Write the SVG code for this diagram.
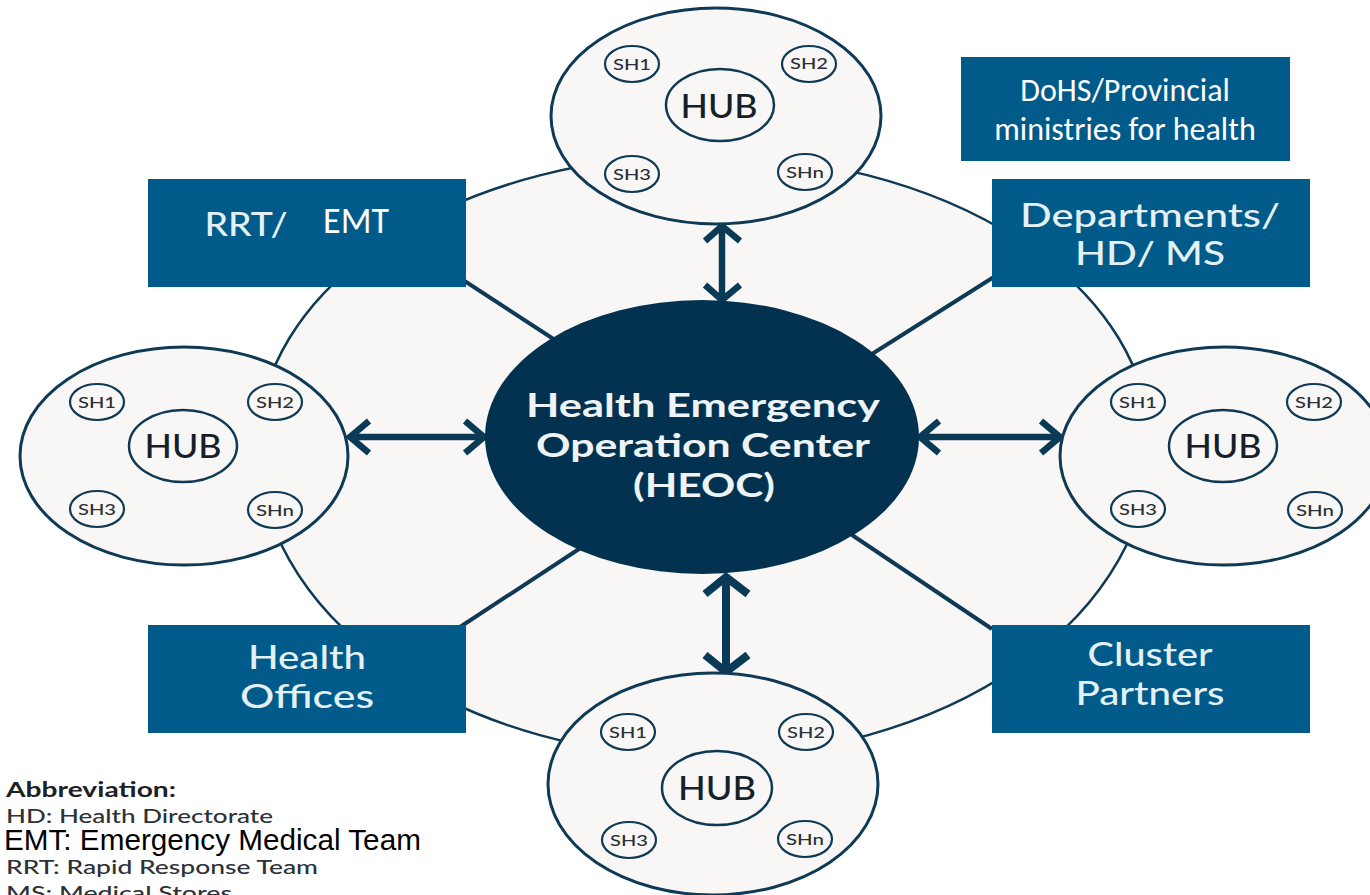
<svg xmlns="http://www.w3.org/2000/svg" width="1370" height="895" viewBox="0 0 1370 895">
<style>
.hubo{fill:#f9f7f6;stroke:#0f3a55;stroke-width:3}
.hubi{fill:#f9f7f6;stroke:#0f3a55;stroke-width:2.5}
.sh{fill:#f9f7f6;stroke:#0f3a55;stroke-width:2.2}
.hubt{font:500 33px Lato,"Noto Sans",sans-serif;fill:#15202a;text-anchor:middle}
.sht{font:500 15.5px Lato,"Noto Sans",sans-serif;fill:#2a3036;text-anchor:middle}
.box{fill:#005b8a}
.boxt{font:500 33px Lato,"Noto Sans",sans-serif;fill:#e4f0f3;text-anchor:middle}
.w{font:32px Carlito,Lato,"Open Sans",sans-serif;fill:#fff;text-anchor:middle}
.link{stroke:#0f3a55;stroke-width:4;fill:none}
.arrow{stroke:#0b3a57;stroke-width:6.5;fill:none}
.heot{font:700 32px Lato,"Noto Sans",sans-serif;fill:#eef3f5;text-anchor:middle}
.abb{font:500 20px Lato,"Noto Sans",sans-serif;fill:#2c3238}
</style>
<rect width="1370" height="895" fill="#fff"/>
<path id="ring" d="M258 445A446 290 0 0 1 1150 445A446 312 0 0 1 258 445Z" fill="#f9f7f6" stroke="#0f3a55" stroke-width="2.5"/>
<g id="connectors">
<path class="link" d="M460 278L555 340M997 275L872 354M460 627L582 547M992 629L852 535"/>
<path class="arrow" d="M722 228V298M705 241L722 226L740 241M705 285L722 300L740 285"/>
<path class="arrow" d="M350 437H484M369 421L350 437L369 453M465 421L484 437L465 453"/>
<path class="arrow" d="M920 437H1060M939 421L920 437L939 453M1041 421L1060 437L1041 453"/>
<path class="arrow" style="stroke-width:8" d="M726 578V670M705 594L726 577L748 594M705 655L726 672L748 655"/>
</g>
<g id="hub-top">
<ellipse class="hubo" cx="716" cy="116" rx="165" ry="108"/>
<ellipse class="hubi" cx="720" cy="105" rx="54" ry="36"/><text class="hubt" x="719" y="118" textLength="77" lengthAdjust="spacingAndGlyphs">HUB</text>
<ellipse class="sh" cx="632" cy="64" rx="27" ry="18"/><text class="sht" x="632" y="70" textLength="38" lengthAdjust="spacingAndGlyphs">SH1</text>
<ellipse class="sh" cx="809" cy="64" rx="27" ry="18"/><text class="sht" x="809" y="69" textLength="38" lengthAdjust="spacingAndGlyphs">SH2</text>
<ellipse class="sh" cx="632" cy="174" rx="27" ry="18"/><text class="sht" x="632" y="180" textLength="38" lengthAdjust="spacingAndGlyphs">SH3</text>
<ellipse class="sh" cx="805" cy="172" rx="27" ry="18"/><text class="sht" x="805" y="178" textLength="38" lengthAdjust="spacingAndGlyphs">SHn</text>
</g>
<g id="hub-left">
<ellipse class="hubo" cx="184" cy="456" rx="164" ry="109"/>
<ellipse class="hubi" cx="183" cy="446" rx="54" ry="36"/><text class="hubt" x="183" y="458" textLength="77" lengthAdjust="spacingAndGlyphs">HUB</text>
<ellipse class="sh" cx="97" cy="402" rx="27" ry="18"/><text class="sht" x="97" y="408" textLength="38" lengthAdjust="spacingAndGlyphs">SH1</text>
<ellipse class="sh" cx="275" cy="402" rx="27" ry="18"/><text class="sht" x="275" y="408" textLength="38" lengthAdjust="spacingAndGlyphs">SH2</text>
<ellipse class="sh" cx="97" cy="509" rx="27" ry="18"/><text class="sht" x="97" y="515" textLength="38" lengthAdjust="spacingAndGlyphs">SH3</text>
<ellipse class="sh" cx="275" cy="510" rx="27" ry="18"/><text class="sht" x="275" y="516" textLength="38" lengthAdjust="spacingAndGlyphs">SHn</text>
</g>
<g id="hub-right">
<ellipse class="hubo" cx="1224" cy="456" rx="164" ry="109"/>
<ellipse class="hubi" cx="1223" cy="446" rx="54" ry="36"/><text class="hubt" x="1223" y="458" textLength="77" lengthAdjust="spacingAndGlyphs">HUB</text>
<ellipse class="sh" cx="1138" cy="402" rx="27" ry="18"/><text class="sht" x="1138" y="408" textLength="38" lengthAdjust="spacingAndGlyphs">SH1</text>
<ellipse class="sh" cx="1314" cy="402" rx="27" ry="18"/><text class="sht" x="1314" y="408" textLength="38" lengthAdjust="spacingAndGlyphs">SH2</text>
<ellipse class="sh" cx="1138" cy="509" rx="27" ry="18"/><text class="sht" x="1138" y="515" textLength="38" lengthAdjust="spacingAndGlyphs">SH3</text>
<ellipse class="sh" cx="1315" cy="510" rx="27" ry="18"/><text class="sht" x="1315" y="516" textLength="38" lengthAdjust="spacingAndGlyphs">SHn</text>
</g>
<g id="hub-bottom">
<ellipse class="hubo" cx="713" cy="784" rx="165" ry="111"/>
<ellipse class="hubi" cx="717" cy="788" rx="55" ry="37"/><text class="hubt" x="717" y="800" textLength="78" lengthAdjust="spacingAndGlyphs">HUB</text>
<ellipse class="sh" cx="628" cy="732" rx="27" ry="18"/><text class="sht" x="628" y="738" textLength="38" lengthAdjust="spacingAndGlyphs">SH1</text>
<ellipse class="sh" cx="806" cy="732" rx="27" ry="18"/><text class="sht" x="806" y="738" textLength="38" lengthAdjust="spacingAndGlyphs">SH2</text>
<ellipse class="sh" cx="629" cy="840" rx="27" ry="18"/><text class="sht" x="629" y="846" textLength="38" lengthAdjust="spacingAndGlyphs">SH3</text>
<ellipse class="sh" cx="805" cy="839" rx="27" ry="18"/><text class="sht" x="805" y="845" textLength="38" lengthAdjust="spacingAndGlyphs">SHn</text>
</g>
<g id="heoc">
<ellipse cx="702" cy="437" rx="217" ry="137" fill="#033250"/>
<text class="heot" x="703" y="417" textLength="354" lengthAdjust="spacingAndGlyphs">Health Emergency</text>
<text class="heot" x="703" y="457" textLength="334" lengthAdjust="spacingAndGlyphs">Operation Center</text>
<text class="heot" x="704" y="497" textLength="142" lengthAdjust="spacingAndGlyphs">(HEOC)</text>
</g>
<g id="rrt-emt">
<rect class="box" x="148" y="179" width="318" height="108"/>
<text class="boxt" x="246" y="236" textLength="83" lengthAdjust="spacingAndGlyphs">RRT/</text>
<text class="w" x="356" y="233" style="font-size:36px">EMT</text>
</g>
<g id="departments">
<rect class="box" x="992" y="179" width="318" height="108"/>
<text class="boxt" x="1150" y="227" textLength="260" lengthAdjust="spacingAndGlyphs">Departments/</text>
<text class="boxt" x="1150" y="265" textLength="150" lengthAdjust="spacingAndGlyphs">HD/ MS</text>
</g>
<g id="health-offices">
<rect class="box" x="148" y="625" width="318" height="108"/>
<text class="boxt" x="307" y="669" textLength="118" lengthAdjust="spacingAndGlyphs">Health</text>
<text class="boxt" x="307" y="708" textLength="134" lengthAdjust="spacingAndGlyphs">Offices</text>
</g>
<g id="cluster-partners">
<rect class="box" x="992" y="625" width="318" height="108"/>
<text class="boxt" x="1150" y="666" textLength="125" lengthAdjust="spacingAndGlyphs">Cluster</text>
<text class="boxt" x="1150" y="705" textLength="149" lengthAdjust="spacingAndGlyphs">Partners</text>
</g>
<g id="dohs">
<rect class="box" x="961" y="57" width="329" height="104"/>
<text class="w" x="1125" y="101">DoHS/Provincial</text>
<text class="w" x="1125" y="140">ministries for health</text>
</g>
<g id="abbreviations">
<text x="6" y="797" class="abb" style="font-weight:700;fill:#1c2127" textLength="170" lengthAdjust="spacingAndGlyphs">Abbreviation:</text>
<text x="6" y="823" class="abb" textLength="267" lengthAdjust="spacingAndGlyphs">HD: Health Directorate</text>
<text x="4" y="850" style="font:29.7px 'Liberation Sans',Arial,sans-serif;fill:#000">EMT: Emergency Medical Team</text>
<text x="6" y="874" class="abb" textLength="312" lengthAdjust="spacingAndGlyphs">RRT: Rapid Response Team</text>
<text x="6" y="900" class="abb" textLength="226" lengthAdjust="spacingAndGlyphs">MS: Medical Stores</text>
</g>
</svg>
